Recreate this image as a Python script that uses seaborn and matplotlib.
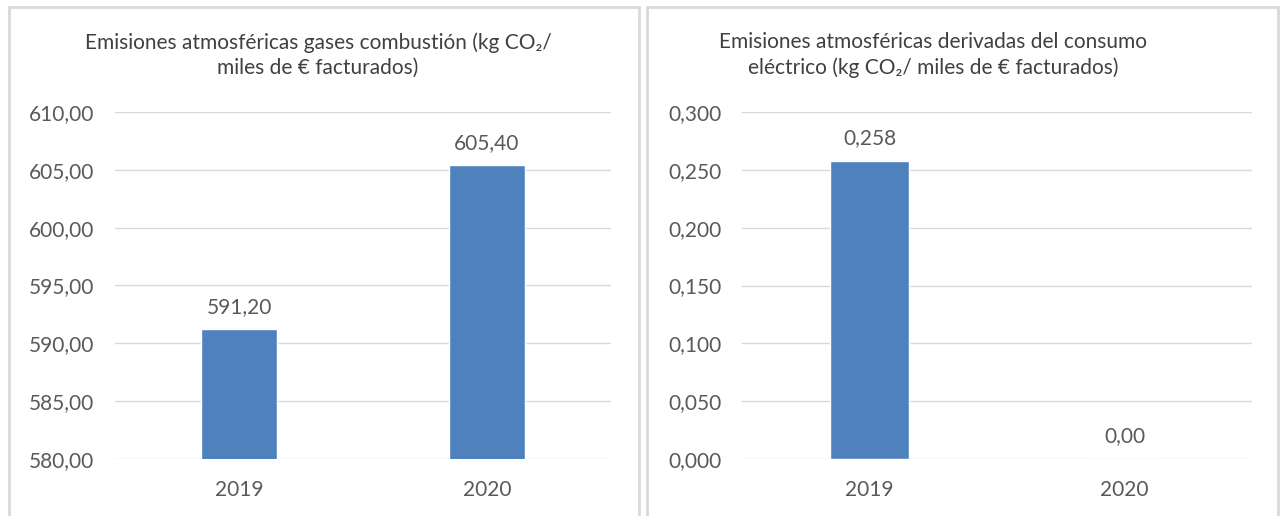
import pandas as pd
import matplotlib.pyplot as plt
import seaborn as sns
from matplotlib.patches import Rectangle
from matplotlib.ticker import FuncFormatter, MultipleLocator

# Datos
anios = ['2019', '2020']
combustion = [591.20, 605.40]
combustion_etiquetas = ['591,20', '605,40']
electrico = [0.258, 0.0]
electrico_etiquetas = ['0,258', '0,00']

titulo_izq = 'Emisiones atmosféricas gases combustión (kg CO₂/\nmiles de € facturados)'
titulo_der = 'Emisiones atmosféricas derivadas del consumo\neléctrico (kg CO₂/ miles de € facturados)'

sns.set_style('white')
plt.rcParams['font.family'] = ['Lato', 'DejaVu Sans']
gris_texto = '#595959'
azul = '#4F81BD'

fig = plt.figure(figsize=(12.81, 5.16), dpi=100)

# marcos de cada gráfico
W, H = 1281, 516
for x0, x1 in [(9, 639), (647, 1278)]:
    fig.patches.append(Rectangle((x0 / W, -0.05), (x1 - x0) / W, 1.05 - 7 / H,
                                 transform=fig.transFigure, fill=False,
                                 edgecolor='#D9D9D9', linewidth=2))

ax1 = fig.add_axes([115 / W, 1 - 459 / H, 496 / W, 347 / H])
ax2 = fig.add_axes([742 / W, 1 - 459 / H, 510 / W, 347 / H])

paneles = [
    (ax1, combustion, combustion_etiquetas, (580, 610), 5, 2, titulo_izq, 318),
    (ax2, electrico, electrico_etiquetas, (0, 0.3), 0.05, 3, titulo_der, 933),
]

for ax, valores, etiquetas, lim, paso, dec, titulo, xt in paneles:
    df = pd.DataFrame({'anio': anios, 'valor': valores})
    sns.barplot(data=df, x='anio', y='valor', color=azul, width=0.31,
                saturation=1, ax=ax)
    ax.set_ylim(*lim)
    ax.set_xlim(-0.5, 1.5)
    ax.yaxis.set_major_locator(MultipleLocator(paso))
    ax.yaxis.set_major_formatter(
        FuncFormatter(lambda v, _, d=dec: f'{v:.{d}f}'.replace('.', ',')))
    ax.grid(axis='y', color='#D9D9D9', linewidth=1)
    ax.set_axisbelow(True)
    sns.despine(ax=ax, left=True, bottom=True)
    ax.tick_params(axis='y', length=0, pad=15, labelsize=15, labelcolor=gris_texto)
    ax.tick_params(axis='x', length=0, pad=15, labelsize=15, labelcolor=gris_texto)
    ax.set_xlabel('')
    ax.set_ylabel('')
    for i, (v, txt) in enumerate(zip(valores, etiquetas)):
        ax.annotate(txt, (i, max(v, lim[0])), xytext=(0, 9), textcoords='offset points',
                    ha='center', va='bottom', fontsize=15, color=gris_texto)
    fig.text(xt / W, 1 - 55 / H, titulo, ha='center', va='center',
             fontsize=15, color='#404040', linespacing=1.3)

plt.savefig('out.png', dpi=100)
plt.close()
